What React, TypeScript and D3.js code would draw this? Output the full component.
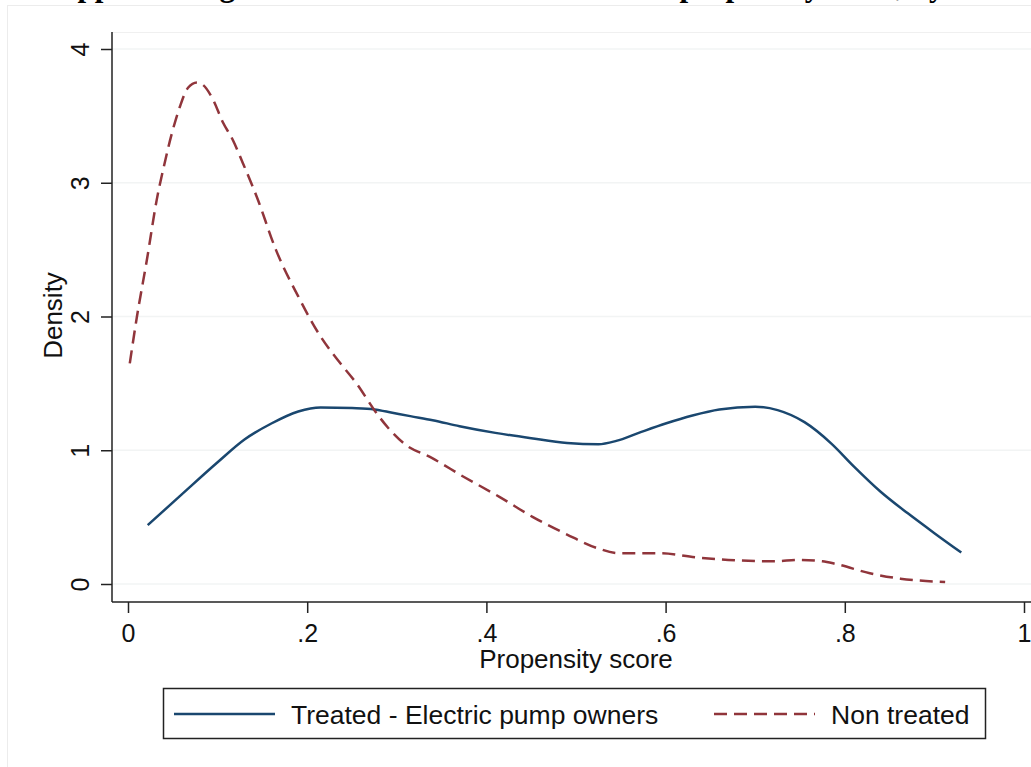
import React, { useRef, useEffect } from 'react';
import * as d3 from 'd3';

// propensity score grid + kernel density
const treatedX = [0.022, 0.06, 0.1, 0.13, 0.16, 0.19, 0.215, 0.25, 0.275, 0.295, 0.315, 0.34, 0.37, 0.41, 0.45, 0.49, 0.525, 0.545, 0.57, 0.6, 0.63, 0.66, 0.7, 0.725, 0.755, 0.785, 0.81, 0.84, 0.87, 0.9, 0.93];
const treatedY = [0.44, 0.67, 0.91, 1.08, 1.2, 1.29, 1.32, 1.315, 1.305, 1.28, 1.255, 1.225, 1.18, 1.13, 1.09, 1.055, 1.045, 1.07, 1.13, 1.2, 1.26, 1.305, 1.325, 1.3, 1.21, 1.05, 0.88, 0.69, 0.53, 0.38, 0.235];

const nonTreatedX = [0.002, 0.01, 0.021, 0.032, 0.041, 0.049, 0.058, 0.067, 0.077, 0.084, 0.095, 0.106, 0.117, 0.128, 0.144, 0.165, 0.19, 0.214, 0.237, 0.255, 0.276, 0.29, 0.31, 0.337, 0.375, 0.415, 0.452, 0.49, 0.523, 0.548, 0.594, 0.633, 0.67, 0.72, 0.75, 0.775, 0.79, 0.828, 0.862, 0.912];
const nonTreatedY = [1.65, 2.0, 2.42, 2.87, 3.15, 3.37, 3.57, 3.71, 3.75, 3.73, 3.62, 3.45, 3.32, 3.15, 2.89, 2.5, 2.15, 1.86, 1.65, 1.5, 1.29, 1.17, 1.04, 0.95, 0.8, 0.65, 0.5, 0.37, 0.27, 0.23, 0.23, 0.2, 0.18, 0.17, 0.18, 0.17, 0.15, 0.08, 0.04, 0.015];

const xTicks = [0, 0.2, 0.4, 0.6, 0.8, 1];
const xTickLabels = ['0', '.2', '.4', '.6', '.8', '1'];
const yTicks = [0, 1, 2, 3, 4];

const seriesNames = ['Treated - Electric pump owners', 'Non treated'];
const BLUE = '#1a476f';
const RED = '#90353b';

const App = () => {
  const svgRef = useRef(null);

  const dimensions = { width: 1031, height: 767 };
  const plot = { left: 112, top: 32, right: 1031, bottom: 602 };

  useEffect(() => {
    const svg = d3.select(svgRef.current);
    svg.selectAll('*').remove();
    const font = 'Liberation Sans, Arial, sans-serif';

    const xScale = d3.scaleLinear().domain([0, 1]).range([128, 1024]);
    const yScale = d3.scaleLinear().domain([0, 4]).range([584, 49]);

    // title, cut off by the top edge as in the source figure
    svg
      .append('text')
      .attr('x', 55)
      .attr('y', -4.5)
      .attr('font-family', 'Liberation Serif, Times New Roman, serif')
      .attr('font-weight', 'bold')
      .attr('font-size', 31)
      .text('Appendix Figure A1: Distribution of estimated propensity score, by treatment status');

    // outer graph region border
    svg
      .append('rect')
      .attr('x', 7.5)
      .attr('y', 5.5)
      .attr('width', dimensions.width)
      .attr('height', dimensions.height)
      .attr('fill', 'none')
      .attr('stroke', '#ececec');

    svg
      .append('line')
      .attr('x1', plot.left)
      .attr('x2', plot.right)
      .attr('y1', plot.top + 0.5)
      .attr('y2', plot.top + 0.5)
      .attr('stroke', '#f0f0f0');

    // gridlines
    svg
      .append('g')
      .selectAll('line')
      .data(yTicks)
      .join('line')
      .attr('x1', plot.left)
      .attr('x2', plot.right)
      .attr('y1', (d) => yScale(d))
      .attr('y2', (d) => yScale(d))
      .attr('stroke', '#f2f4f4')
      .attr('stroke-width', 1.5);

    // y axis
    const yAxis = svg
      .append('g')
      .attr('transform', `translate(${plot.left},0)`)
      .call(d3.axisLeft(yScale).tickValues(yTicks).tickSize(11).tickSizeOuter(0).tickFormat(d3.format('d')));
    yAxis.select('.domain').attr('d', `M0,${plot.top}V${plot.bottom}`).attr('stroke', '#222').attr('stroke-width', 1.5);
    yAxis.selectAll('.tick line').attr('stroke', '#222').attr('stroke-width', 1.5);
    yAxis
      .selectAll('.tick text')
      .attr('font-family', font)
      .attr('font-size', 25)
      .attr('fill', '#111')
      .attr('text-anchor', 'middle')
      .attr('x', 0)
      .attr('dy', 0)
      .attr('transform', 'translate(-23,0) rotate(-90)');

    // x axis
    const xAxis = svg
      .append('g')
      .attr('transform', `translate(0,${plot.bottom})`)
      .call(d3.axisBottom(xScale).tickValues(xTicks).tickSize(11).tickSizeOuter(0).tickFormat((d, i) => xTickLabels[i]));
    xAxis.select('.domain').attr('d', `M${plot.left},0H${plot.right}`).attr('stroke', '#222').attr('stroke-width', 1.5);
    xAxis.selectAll('.tick line').attr('stroke', '#222').attr('stroke-width', 1.5);
    xAxis
      .selectAll('.tick text')
      .attr('font-family', font)
      .attr('font-size', 25)
      .attr('fill', '#111')
      .attr('y', 40)
      .attr('dy', 0);

    // axis titles
    svg
      .append('text')
      .attr('x', (xScale(0) + xScale(1)) / 2)
      .attr('y', 668)
      .attr('text-anchor', 'middle')
      .attr('font-family', font)
      .attr('font-size', 26)
      .attr('fill', '#111')
      .text('Propensity score');
    svg
      .append('text')
      .attr('transform', `translate(62,${yScale(2) - 1}) rotate(-90)`)
      .attr('text-anchor', 'middle')
      .attr('font-family', font)
      .attr('font-size', 26)
      .attr('fill', '#111')
      .text('Density');

    const line = d3
      .line()
      .x((d) => xScale(d[0]))
      .y((d) => yScale(d[1]))
      .curve(d3.curveMonotoneX);

    svg
      .append('path')
      .datum(treatedX.map((x, i) => [x, treatedY[i]]))
      .attr('d', line)
      .attr('fill', 'none')
      .attr('stroke', BLUE)
      .attr('stroke-width', 2.5);

    svg
      .append('path')
      .datum(nonTreatedX.map((x, i) => [x, nonTreatedY[i]]))
      .attr('d', line)
      .attr('fill', 'none')
      .attr('stroke', RED)
      .attr('stroke-width', 2.5)
      .attr('stroke-dasharray', '13,7');

    // legend
    const legend = svg.append('g');
    legend
      .append('rect')
      .attr('x', 163.5)
      .attr('y', 688.5)
      .attr('width', 822)
      .attr('height', 50)
      .attr('fill', '#fff')
      .attr('stroke', '#222')
      .attr('stroke-width', 1.5);
    const items = [
      { name: seriesNames[0], color: BLUE, dash: null, x1: 174, x2: 275, tx: 291 },
      { name: seriesNames[1], color: RED, dash: '13,7', x1: 714, x2: 815, tx: 831 },
    ];
    items.forEach((it) => {
      legend
        .append('line')
        .attr('x1', it.x1)
        .attr('x2', it.x2)
        .attr('y1', 714)
        .attr('y2', 714)
        .attr('stroke', it.color)
        .attr('stroke-width', 2.5)
        .attr('stroke-dasharray', it.dash);
      legend
        .append('text')
        .attr('x', it.tx)
        .attr('y', 724)
        .attr('font-family', font)
        .attr('font-size', 26.5)
        .attr('fill', '#111')
        .text(it.name);
    });
  }, []);

  return (
    <svg
      ref={svgRef}
      width={dimensions.width}
      height={dimensions.height}
      style={{ position: 'absolute', left: 0, top: 0, background: '#fff' }}
    ></svg>
  );
};

export default App;
